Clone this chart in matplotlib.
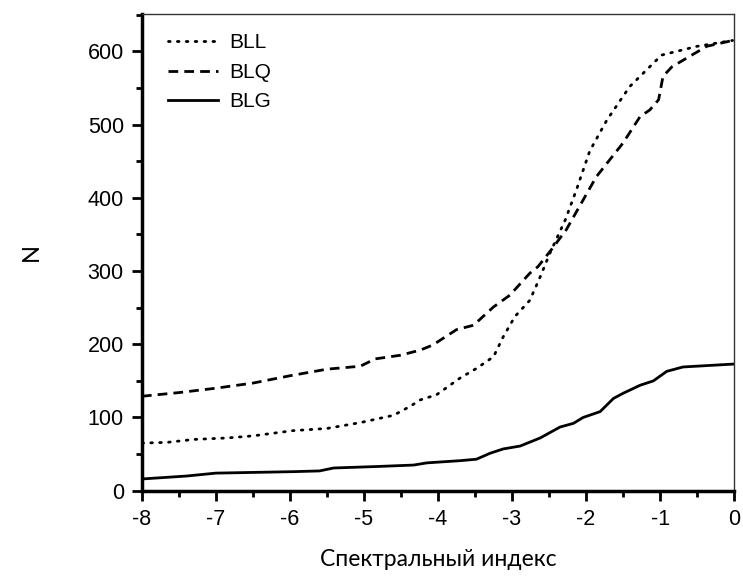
import matplotlib
matplotlib.use("Agg")
import matplotlib.pyplot as plt
from matplotlib.ticker import MultipleLocator

# Data (cumulative counts vs spectral index)
bll_x = [-8.0, -7.66, -7.3, -6.85, -6.49, -5.96, -5.5, -5.05, -4.6, -4.38, -4.24, -4.02,
         -3.7, -3.48, -3.25, -3.12, -2.96, -2.76, -2.62, -2.49, -2.28, -2.13, -1.95,
         -1.72, -1.41, -0.98, -0.5, -0.02]
bll_y = [65, 66, 70, 72, 75, 82, 85, 93, 103, 115, 124, 131,
         154, 167, 183, 210, 238, 260, 292, 324, 370, 411, 464,
         506, 552, 595, 607, 615]

blq_x = [-8.0, -7.5, -7.0, -6.5, -6.0, -5.5, -5.05, -4.85, -4.51, -4.24, -4.07, -3.75,
         -3.52, -3.25, -3.03, -2.76, -2.65, -2.47, -2.27, -2.04, -1.86, -1.5, -1.27,
         -1.14, -1.02, -0.96, -0.84, -0.37, -0.02]
blq_y = [129, 134, 140, 147, 157, 166, 170, 180, 185, 192, 199, 220,
         226, 251, 267, 297, 306, 329, 356, 397, 429, 475, 511,
         520, 534, 566, 579, 607, 615]

blg_x = [-8.0, -7.4, -7.0, -5.95, -5.6, -5.41, -4.83, -4.33, -4.15, -3.7, -3.48, -3.3,
         -3.12, -2.89, -2.62, -2.35, -2.17, -2.04, -1.81, -1.63, -1.5, -1.27, -1.09,
         -0.91, -0.69, 0.0]
blg_y = [16, 20, 24, 26, 27, 31, 33, 35, 38, 41, 43, 51,
         57, 61, 72, 87, 92, 100, 108, 126, 133, 144, 150,
         163, 169, 173]

xticks = [-8, -7, -6, -5, -4, -3, -2, -1, 0]
yticks = [0, 100, 200, 300, 400, 500, 600]

plt.rcParams['font.family'] = ['Liberation Sans', 'DejaVu Sans']
plt.rcParams['axes.unicode_minus'] = False

fig = plt.figure(figsize=(7.43, 5.88), dpi=100)
ax = fig.add_axes([0.191, 0.1655, 0.797, 0.8105])

lw = 2.0
ax.plot(bll_x, bll_y, color='black', lw=lw, linestyle=(0, (0.6, 2.6)),
        dash_capstyle='round', label='BLL')
ax.plot(blq_x, blq_y, color='black', lw=lw, linestyle=(0, (3.5, 2.2)), label='BLQ')
ax.plot(blg_x, blg_y, color='black', lw=lw, linestyle='-', label='BLG')

ax.set_xlim(-8, 0)
ax.set_ylim(0, 651)
ax.set_xticks(xticks)
ax.set_yticks(yticks)
ax.xaxis.set_minor_locator(MultipleLocator(0.5))
ax.yaxis.set_minor_locator(MultipleLocator(50))

ax.tick_params(which='major', direction='out', length=7, width=2, labelsize=15.5, pad=6)
ax.tick_params(which='minor', direction='out', length=4, width=2)
ax.tick_params(top=False, right=False, which='both')

for s in ['left', 'bottom']:
    ax.spines[s].set_linewidth(2.5)
for s in ['top', 'right']:
    ax.spines[s].set_linewidth(1.0)
    ax.spines[s].set_color('#333333')

ax.set_xlabel('Спектральный индекс', fontsize=16.5, family=['Lato', 'DejaVu Sans'], labelpad=14)
ax.set_ylabel('N', fontsize=17, family=['Lato', 'DejaVu Sans'], labelpad=33)

leg = ax.legend(loc='upper left', frameon=False, fontsize=15, handlelength=2.4,
                handletextpad=0.5, labelspacing=0.5, borderaxespad=0.3,
                bbox_to_anchor=(0.02, 0.99))

fig.savefig('out.png', dpi=100)
